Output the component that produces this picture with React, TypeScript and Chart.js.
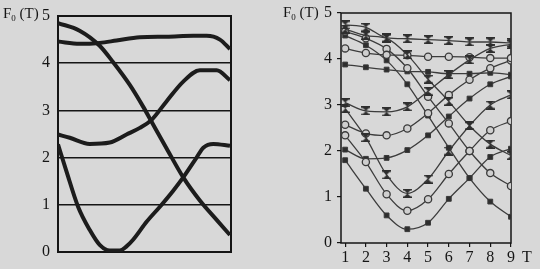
import React, { useEffect, useRef } from 'react';
import { Chart, registerables } from 'chart.js';
Chart.register(...registerables);

// ---------- Left panel (continuous curves, x as % of width) ----------
const leftDescX = [0, 12.5, 24.1, 31.9, 41.5, 49.2, 54.1, 62.7, 72.4, 82.0, 91.7, 99.4];
const leftDescY = [4.85, 4.69, 4.37, 4.02, 3.54, 3.08, 2.76, 2.2, 1.58, 1.09, 0.68, 0.36];
const leftFlatX = [0, 12.5, 24.1, 33.8, 47.3, 62.7, 78.2, 85.9, 93.6, 99.4];
const leftFlatY = [4.46, 4.41, 4.43, 4.48, 4.55, 4.56, 4.58, 4.58, 4.5, 4.3];
const leftMidX = [0, 6.8, 18.3, 29.9, 39.6, 47.3, 54.1, 62.7, 72.4, 82.0, 91.7, 99.4];
const leftMidY = [2.49, 2.42, 2.29, 2.32, 2.49, 2.63, 2.8, 3.19, 3.61, 3.85, 3.85, 3.64];
const leftDeepX = [0, 4.8, 11.6, 18.3, 24.1, 29.9, 35.7, 39.6, 43.4, 51.2, 58.9, 66.6, 72.4, 80.1, 84.0, 89.8, 99.4];
const leftDeepY = [2.28, 1.72, 0.96, 0.47, 0.15, 0.03, 0.03, 0.12, 0.26, 0.64, 0.96, 1.3, 1.58, 2.0, 2.21, 2.29, 2.25];
const leftYTicks = [0, 1, 2, 3, 4, 5];

// ---------- Right panel (T = 1..9) ----------
const T = [1, 2, 3, 4, 5, 6, 7, 8, 9];
const xFlat = [4.74, 4.69, 4.46, 4.44, 4.42, 4.4, 4.37, 4.37, 4.35];
const xDesc = [4.65, 4.51, 4.45, 4.09, 3.56, 3.08, 2.55, 2.15, 1.9];
const xMid = [3.05, 2.87, 2.85, 2.96, 3.3, 3.66, 3.98, 4.23, 4.32];
const xDeep = [2.92, 2.29, 1.48, 1.08, 1.39, 2.0, 2.55, 3.0, 3.22];
const oFlat = [4.23, 4.13, 4.09, 4.08, 4.05, 4.05, 4.04, 4.02, 4.02];
const oDesc = [4.6, 4.45, 4.22, 3.8, 3.18, 2.6, 2.0, 1.52, 1.24];
const oMid = [2.57, 2.38, 2.34, 2.49, 2.82, 3.22, 3.55, 3.8, 3.97];
const oDeep = [2.34, 1.76, 1.06, 0.7, 0.95, 1.5, 2.0, 2.45, 2.65];
const fFlat = [3.88, 3.82, 3.77, 3.73, 3.72, 3.68, 3.68, 3.7, 3.66];
const fDesc = [4.51, 4.3, 3.97, 3.45, 2.77, 2.07, 1.41, 0.9, 0.57];
const fMid = [2.03, 1.83, 1.85, 2.02, 2.34, 2.75, 3.14, 3.45, 3.62];
const fDeep = [1.8, 1.18, 0.6, 0.3, 0.44, 0.96, 1.41, 1.87, 2.05];
const rightYTicks = [0, 1, 2, 3, 4, 5];

const FONT = '"Liberation Serif", "DejaVu Serif", serif';
const INK = '#151515';

function pts(xs: number[], ys: number[]) {
  return ys.map((y, i) => ({ x: xs[i], y }));
}

function makeHourglass() {
  const c = document.createElement('canvas');
  c.width = 9;
  c.height = 9;
  const g = c.getContext('2d')!;
  g.fillStyle = '#2e2e2e';
  g.beginPath();
  g.moveTo(0.5, 0.5);
  g.lineTo(8.5, 0.5);
  g.lineTo(4.5, 4.5);
  g.closePath();
  g.fill();
  g.beginPath();
  g.moveTo(0.5, 8.5);
  g.lineTo(8.5, 8.5);
  g.lineTo(4.5, 4.5);
  g.closePath();
  g.fill();
  g.fillRect(0, 0, 9, 1.5);
  g.fillRect(0, 7.5, 9, 1.5);
  return c;
}

const boxPlugin = (width: number) => ({
  id: 'box' + width,
  beforeDatasetsDraw(chart: any) {
    const { ctx, chartArea: a } = chart;
    ctx.save();
    ctx.strokeStyle = INK;
    ctx.lineWidth = width;
    ctx.strokeRect(a.left, a.top, a.right - a.left, a.bottom - a.top);
    ctx.restore();
  },
});

export default function App() {
  const leftRef = useRef<HTMLCanvasElement>(null);
  const rightRef = useRef<HTMLCanvasElement>(null);

  useEffect(() => {
    document.body.style.margin = '0';
    const thick = (xs: number[], ys: number[]) => ({
      data: pts(xs, ys),
      borderColor: '#1c1c1c',
      borderWidth: 4,
      pointRadius: 0,
      cubicInterpolationMode: 'monotone' as const,
      fill: false,
    });
    const c1 = new Chart(leftRef.current!, {
      type: 'line',
      data: {
        datasets: [
          thick(leftFlatX, leftFlatY),
          thick(leftMidX, leftMidY),
          thick(leftDeepX, leftDeepY),
          thick(leftDescX, leftDescY),
        ],
      },
      options: {
        responsive: false,
        animation: false,
        events: [],
        layout: { padding: { left: 0, top: 13, right: 39, bottom: 17 } },
        plugins: { legend: { display: false }, tooltip: { enabled: false } },
        scales: {
          x: { type: 'linear', min: 0, max: 100, display: false },
          y: {
            type: 'linear',
            min: 0,
            max: 5,
            afterFit: (s: any) => {
              s.width = 58;
            },
            afterBuildTicks: (s: any) => {
              s.ticks = leftYTicks.map((v) => ({ value: v }));
            },
            ticks: { color: INK, font: { family: FONT, size: 16, lineHeight: 1 }, padding: 8 },
            grid: { color: INK, lineWidth: 1.5, drawTicks: false },
            border: { display: false },
          },
        },
      },
      plugins: [boxPlugin(2)],
    });

    const hg = makeHourglass();
    const thin = (ys: number[], kind: 'x' | 'o' | 'f') => ({
      data: pts(T, ys),
      borderColor: '#3c3c3c',
      borderWidth: 1.3,
      cubicInterpolationMode: 'monotone' as const,
      fill: false,
      pointStyle: kind === 'x' ? (hg as any) : kind === 'o' ? 'circle' : 'rect',
      pointRadius: kind === 'o' ? 3.6 : 3.4,
      pointBackgroundColor: kind === 'o' ? '#cfcfcf' : '#2e2e2e',
      pointBorderColor: '#3a3a3a',
      pointBorderWidth: kind === 'o' ? 1.3 : 1,
    });
    const c2 = new Chart(rightRef.current!, {
      type: 'line',
      data: {
        datasets: [
          thin(xFlat, 'x'),
          thin(xDesc, 'x'),
          thin(xMid, 'x'),
          thin(xDeep, 'x'),
          thin(oFlat, 'o'),
          thin(oDesc, 'o'),
          thin(oMid, 'o'),
          thin(oDeep, 'o'),
          thin(fFlat, 'f'),
          thin(fDesc, 'f'),
          thin(fMid, 'f'),
          thin(fDeep, 'f'),
        ],
      },
      options: {
        responsive: false,
        animation: false,
        events: [],
        layout: { padding: { left: 0, top: 7, right: 29, bottom: 0 } },
        plugins: { legend: { display: false }, tooltip: { enabled: false } },
        scales: {
          x: {
            type: 'linear',
            min: 0.8,
            max: 9,
            afterFit: (s: any) => {
              s.height = 26;
            },
            afterBuildTicks: (s: any) => {
              s.ticks = T.map((v) => ({ value: v }));
            },
            ticks: { color: INK, font: { family: FONT, size: 16, lineHeight: 1 }, padding: 3 },
            grid: { color: INK, lineWidth: 1.2, drawOnChartArea: false, drawTicks: true, tickLength: 4 },
            border: { display: false },
          },
          y: {
            type: 'linear',
            min: 0,
            max: 5,
            afterFit: (s: any) => {
              s.width = 71;
            },
            afterBuildTicks: (s: any) => {
              s.ticks = rightYTicks.map((v) => ({ value: v }));
            },
            ticks: { color: INK, font: { family: FONT, size: 16, lineHeight: 1 }, padding: 5 },
            grid: { color: INK, lineWidth: 1.2, drawOnChartArea: false, drawTicks: true, tickLength: 4 },
            border: { display: false },
          },
        },
      },
      plugins: [boxPlugin(1.5)],
    });
    return () => {
      c1.destroy();
      c2.destroy();
    };
  }, []);

  const label = (left: number, top: number) => (
    <div style={{ position: 'absolute', left, top, fontSize: 15, lineHeight: '18px', whiteSpace: 'nowrap' }}>
      F<span style={{ fontSize: 9, position: 'relative', top: 3 }}>0</span> (T)
    </div>
  );

  return (
    <div
      style={{
        position: 'relative',
        width: 540,
        height: 269,
        background: '#d8d8d8',
        overflow: 'hidden',
        fontFamily: FONT,
        color: INK,
      }}
    >
      <canvas ref={leftRef} width={270} height={269} style={{ position: 'absolute', left: 0, top: 0 }} />
      <canvas ref={rightRef} width={270} height={269} style={{ position: 'absolute', left: 270, top: 0 }} />
      {label(3, 4)}
      {label(283, 3)}
      <div style={{ position: 'absolute', left: 522, top: 248, fontSize: 16, lineHeight: '18px' }}>T</div>
    </div>
  );
}
